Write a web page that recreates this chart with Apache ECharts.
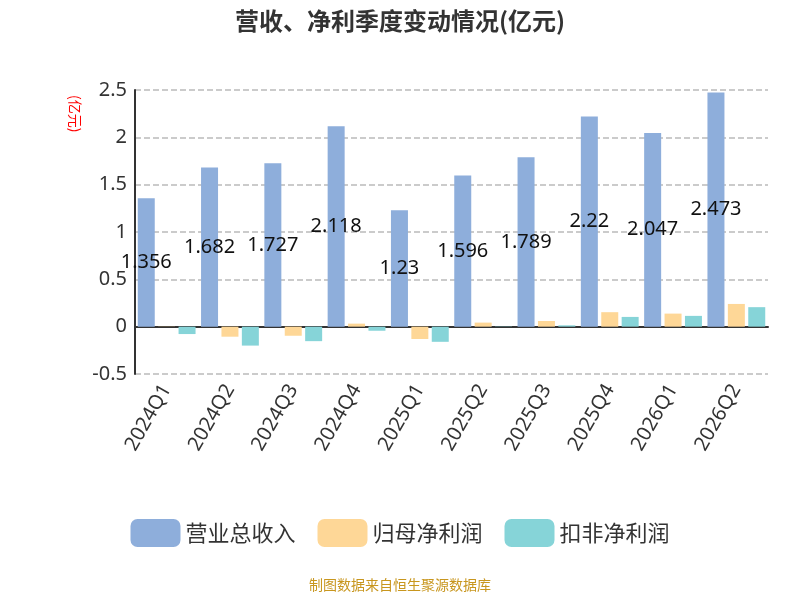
<!DOCTYPE html>
<html>
<head>
<meta charset="UTF-8">
<script src="https://cdn.jsdelivr.net/npm/echarts@6/dist/echarts.min.js"></script>
</head>
<body style="margin:0">
<div id="main" style="width:800px;height:600px"></div>
<script>
var quarters = ['2024Q1','2024Q2','2024Q3','2024Q4','2025Q1','2025Q2','2025Q3','2025Q4','2026Q1','2026Q2'];
var revenue = [1.356,1.682,1.727,2.118,1.23,1.596,1.789,2.22,2.047,2.473];
var netProfit = [0.002,-0.106,-0.096,0.032,-0.13,0.043,0.06,0.153,0.138,0.24];
var deductedProfit = [-0.078,-0.2,-0.153,-0.043,-0.16,0.003,0.014,0.103,0.114,0.206];

var myChart = echarts.init(document.getElementById('main'));
myChart.setOption({
    textStyle: { fontFamily: 'Noto Sans' },
    title: {
        text: '营收、净利季度变动情况(亿元)', left: 'center', top: 4,
        textStyle: { fontSize: 24, fontWeight: 'bold', color: '#333', fontFamily: 'Noto Sans CJK SC' }
    },
    graphic: [
        { type: 'text', left: 'center', top: 578, style: { text: '制图数据来自恒生聚源数据库', fill: '#c8961e', fontSize: 14, fontFamily: 'Noto Sans CJK SC' } },
        { type: 'text', left: 68, top: 95, rotation: -Math.PI / 2, style: { text: '(亿元)', fill: '#ff0000', fontSize: 14, fontFamily: 'Noto Sans CJK SC' } }
    ],
    legend: {
        bottom: 48, itemWidth: 50, itemHeight: 28, itemGap: 22,
        textStyle: { fontSize: 22, color: '#333', fontFamily: 'Noto Sans CJK SC' },
        data: ['营业总收入', '归母净利润', '扣非净利润']
    },
    grid: { left: 135, right: 32, top: 90, bottom: 226 },
    xAxis: {
        type: 'category', data: quarters,
        axisLine: { onZero: true, lineStyle: { color: '#333', width: 2 } },
        axisTick: { length: 8, lineStyle: { width: 2 } },
        axisLabel: { rotate: 60, fontSize: 20, color: '#333', margin: 12 }
    },
    yAxis: {
        type: 'value', min: -0.5, max: 2.5, interval: 0.5,
        axisLine: { show: true, lineStyle: { color: '#333', width: 2 } },
        axisLabel: { fontSize: 20, color: '#333' },
        splitLine: { lineStyle: { type: 'dashed', color: '#bbb', width: 1.5 } }
    },
    series: [
        { name: '营业总收入', type: 'bar', data: revenue, barWidth: 17, barGap: '20%',
          itemStyle: { color: '#8eaedb' },
          label: { show: true, position: 'inside', color: '#111', fontSize: 20 } },
        { name: '归母净利润', type: 'bar', data: netProfit, barWidth: 17, itemStyle: { color: '#fed797' } },
        { name: '扣非净利润', type: 'bar', data: deductedProfit, barWidth: 17, itemStyle: { color: '#86d4d8' } }
    ]
});
</script>
</body>
</html>
